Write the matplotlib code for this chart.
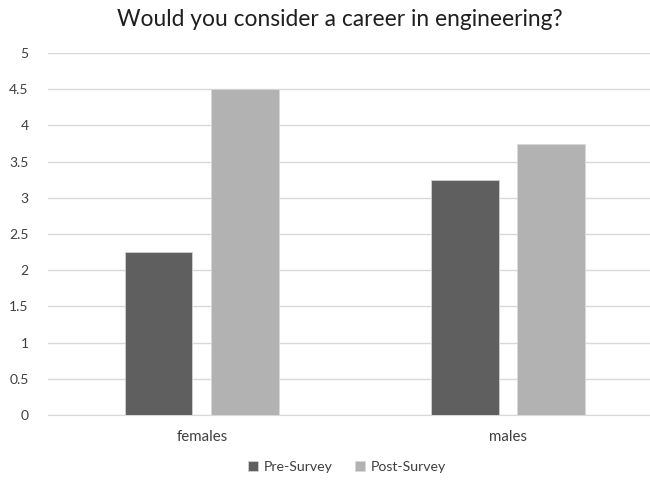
import matplotlib.pyplot as plt
import numpy as np

plt.rcParams['font.family'] = ['Lato', 'DejaVu Sans']

categories = ['females', 'males']
pre_survey = [2.25, 3.25]
post_survey = [4.5, 3.75]
series_names = ['Pre-Survey', 'Post-Survey']
y_ticks = [0, 0.5, 1, 1.5, 2, 2.5, 3, 3.5, 4, 4.5, 5]

fig = plt.figure(figsize=(6.5, 4.8), dpi=100)
ax = fig.add_axes([48 / 650, 65 / 480, 1 - 48 / 650, 362 / 480])

x = np.arange(len(categories))
w = 0.222
off = 0.142
ax.bar(x - off, pre_survey, w, color='#5f5f5f', edgecolor='#d0d0d0', linewidth=0.6,
       label=series_names[0], zorder=3)
ax.bar(x + off, post_survey, w, color='#b2b2b2', edgecolor='#d8d8d8', linewidth=0.6,
       label=series_names[1], zorder=3)

ax.set_xlim(-0.503, 1.464)
ax.set_ylim(0, 5)
ax.set_yticks(y_ticks)
ax.set_yticklabels(['%g' % v for v in y_ticks])
ax.set_xticks(x)
ax.set_xticklabels(categories)
ax.grid(axis='y', color='#d9d9d9', linewidth=1, zorder=0)
for s in ['top', 'right', 'left']:
    ax.spines[s].set_visible(False)
ax.spines['bottom'].set_color('#d9d9d9')
ax.tick_params(axis='y', length=0, pad=14, labelsize=10, labelcolor='#404040')
ax.tick_params(axis='x', length=0, pad=11, labelsize=10.8, labelcolor='#404040')

fig.text(340 / 650, 461 / 480, 'Would you consider a career in engineering?',
         ha='center', va='center', fontsize=16.4, color='#1f1f1f')

fig.legend(loc='center', bbox_to_anchor=(347 / 650, 13 / 480), ncol=2, frameon=False,
           fontsize=10.2, handlelength=0.7, handleheight=0.7, handletextpad=0.4,
           columnspacing=1.6, labelcolor='#404040')

fig.savefig('out.png', dpi=100)
